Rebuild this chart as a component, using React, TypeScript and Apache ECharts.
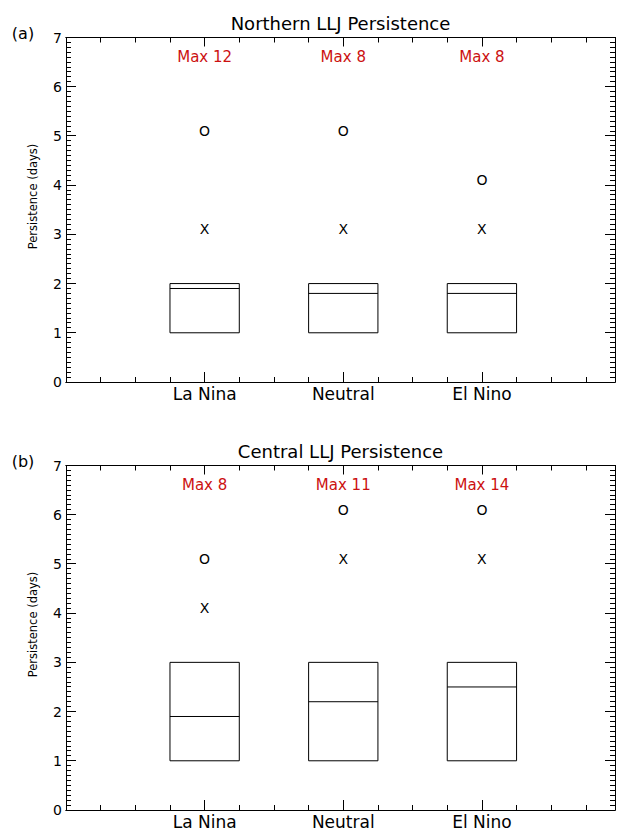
import React, { useEffect, useRef } from 'react';
import * as echarts from 'echarts';

const categories = ['La Nina', 'Neutral', 'El Nino'];
const panelTitles = ['Northern LLJ Persistence', 'Central LLJ Persistence'];
const panelTags = ['(a)', '(b)'];
const yAxisName = 'Persistence (days)';
const yTickValues = [0, 1, 2, 3, 4, 5, 6, 7];
const yMinorPerMajor = 10;

const northQ1 = [1, 1, 1];
const northMedian = [1.9, 1.8, 1.8];
const northQ3 = [2, 2, 2];
const northX = [3, 3, 3];
const northO = [5, 5, 4];
const northMax = [12, 8, 8];

const centralQ1 = [1, 1, 1];
const centralMedian = [1.9, 2.2, 2.5];
const centralQ3 = [3, 3, 3];
const centralX = [4, 5, 5];
const centralO = [5, 6, 6];
const centralMax = [8, 11, 14];

const FONT = 'DejaVu Sans';
const X_MAX = 3.96;
const BOX_HALF = 0.25;
const MAX_LABEL_Y = 6.6;

const panels = [
  { q1: northQ1, med: northMedian, q3: northQ3, xs: northX, os: northO, mx: northMax },
  { q1: centralQ1, med: centralMedian, q3: centralQ3, xs: centralX, os: centralO, mx: centralMax },
];

const grids = [
  { left: 66, top: 37.5, width: 549, height: 344.5 },
  { left: 66, top: 465.5, width: 549, height: 344.5 },
];

function catLabel(v: number): string {
  const i = Math.round(v);
  if (Math.abs(v - i) < 1e-6 && i >= 1 && i <= categories.length) return categories[i - 1];
  return '';
}

// tick marks for the y axes (major ticks plus subdivisions between them)
function yTickMarks(): number[][] {
  const out: number[][] = [];
  for (let i = 0; i < yTickValues.length; i++) {
    out.push([yTickValues[i], 1]);
    if (i < yTickValues.length - 1) {
      const step = (yTickValues[i + 1] - yTickValues[i]) / yMinorPerMajor;
      for (let k = 1; k < yMinorPerMajor; k++) {
        out.push([Math.round((yTickValues[i] + k * step) * 1000) / 1000, 0]);
      }
    }
  }
  return out;
}

function buildOption() {
  const xAxis: any[] = [];
  const yAxis: any[] = [];
  const series: any[] = [];
  const graphic: any[] = [];
  const mkLine = () => ({ show: true, onZero: false, lineStyle: { color: '#000', width: 1 } });

  grids.forEach((g, gi) => {
    const mkX = (position: string, interval: number, len: number, labels: boolean) => ({
      type: 'value',
      gridIndex: gi,
      position,
      min: 0,
      max: X_MAX,
      interval,
      axisLine: mkLine(),
      axisTick: { show: true, inside: true, length: len, lineStyle: { color: '#000', width: 1 } },
      splitLine: { show: false },
      axisLabel: labels
        ? { show: true, formatter: catLabel, color: '#000', fontFamily: FONT, fontSize: 17, margin: 3 }
        : { show: false },
    });
    xAxis.push(mkX('bottom', 0.25, 5, false));
    xAxis.push(mkX('bottom', 1, 10, true));
    xAxis.push(mkX('top', 0.25, 5, false));
    xAxis.push(mkX('top', 1, 9, false));

    const mkY = (position: string, labels: boolean) => ({
      type: 'value',
      gridIndex: gi,
      position,
      min: yTickValues[0],
      max: yTickValues[yTickValues.length - 1],
      interval: 1,
      axisLine: mkLine(),
      axisTick: { show: false },
      splitLine: { show: false },
      axisLabel: labels
        ? { show: true, color: '#000', fontFamily: FONT, fontSize: 14, margin: 4 }
        : { show: false },
    });
    yAxis.push(mkY('left', true));
    yAxis.push(mkY('right', false));

    const p = panels[gi];
    const xi = gi * 4 + 1;
    const yi = gi * 2;

    // y-axis tick marks on both sides, placed through the axis scale
    series.push({
      type: 'custom',
      xAxisIndex: xi,
      yAxisIndex: yi,
      clip: false,
      silent: true,
      data: yTickMarks(),
      renderItem: (params: any, api: any) => {
        const v = api.value(0);
        const len = api.value(1) ? 10 : 5;
        const pl = api.coord([0, v]);
        const pr = api.coord([X_MAX, v]);
        const y = Math.round(pl[1] - 0.5) + 0.5;
        return {
          type: 'group',
          children: [
            { type: 'line', shape: { x1: pl[0], y1: y, x2: pl[0] + len, y2: y }, style: { stroke: '#000', lineWidth: 1 } },
            { type: 'line', shape: { x1: pr[0] - len, y1: y, x2: pr[0], y2: y }, style: { stroke: '#000', lineWidth: 1 } },
          ],
        };
      },
    });

    series.push({
      type: 'custom',
      xAxisIndex: xi,
      yAxisIndex: yi,
      clip: false,
      data: categories.map((c, i) => [i + 1, p.q1[i], p.med[i], p.q3[i]]),
      renderItem: (params: any, api: any) => {
        const x = api.value(0);
        const q1 = api.value(1);
        const med = api.value(2);
        const q3 = api.value(3);
        const a = api.coord([x - BOX_HALF, q3]);
        const b = api.coord([x + BOX_HALF, q1]);
        const m1 = api.coord([x - BOX_HALF, med]);
        const m2 = api.coord([x + BOX_HALF, med]);
        return {
          type: 'group',
          children: [
            {
              type: 'rect',
              shape: { x: a[0], y: a[1], width: b[0] - a[0], height: b[1] - a[1] },
              style: { fill: 'none', stroke: '#000', lineWidth: 1 },
            },
            {
              type: 'line',
              shape: { x1: m1[0], y1: m1[1], x2: m2[0], y2: m2[1] },
              style: { stroke: '#000', lineWidth: 1 },
            },
          ],
        };
      },
    });

    const textSeries = (data: number[][], textFn: (v: number) => string, color: string, size: number, dy: number) => ({
      type: 'custom',
      xAxisIndex: xi,
      yAxisIndex: yi,
      clip: false,
      data,
      renderItem: (params: any, api: any) => {
        const pt = api.coord([api.value(0), api.value(1)]);
        return {
          type: 'text',
          x: pt[0],
          y: pt[1] + dy,
          style: {
            text: textFn(api.value(2)),
            fill: color,
            font: `${size}px "${FONT}"`,
            align: 'center',
            verticalAlign: 'middle',
          },
        };
      },
    });

    series.push(textSeries(categories.map((c, i) => [i + 1, p.xs[i], p.xs[i]]), () => 'X', '#000', 14, -5));
    series.push(textSeries(categories.map((c, i) => [i + 1, p.os[i], p.os[i]]), () => 'O', '#000', 14, -5));
    series.push(textSeries(categories.map((c, i) => [i + 1, MAX_LABEL_Y, p.mx[i]]), (v) => 'Max ' + v, '#cc1111', 15, 0));

    graphic.push({
      type: 'text',
      x: g.left + g.width / 2,
      y: g.top - 14,
      style: { text: panelTitles[gi], fill: '#000', font: `18px "${FONT}"`, align: 'center', verticalAlign: 'middle' },
    });
    graphic.push({
      type: 'text',
      x: 23,
      y: g.top - 4.5,
      style: { text: panelTags[gi], fill: '#000', font: `16px "${FONT}"`, align: 'center', verticalAlign: 'middle' },
    });
    graphic.push({
      type: 'text',
      x: 33,
      y: g.top + 159,
      rotation: Math.PI / 2,
      style: { text: yAxisName, fill: '#000', font: `11.5px "${FONT}"`, align: 'center', verticalAlign: 'middle' },
    });
  });

  return {
    animation: false,
    backgroundColor: '#fff',
    grid: grids.map((g) => ({ ...g, containLabel: false })),
    xAxis,
    yAxis,
    series,
    graphic,
  };
}

export default function App() {
  const ref = useRef<HTMLDivElement>(null);
  useEffect(() => {
    if (!ref.current) return;
    const chart = echarts.init(ref.current, null, { renderer: 'svg' });
    chart.setOption(buildOption() as any);
    return () => chart.dispose();
  }, []);
  return (
    <div
      ref={ref}
      style={{ position: 'absolute', left: 0, top: 0, width: 621, height: 831, background: '#fff' }}
    />
  );
}
